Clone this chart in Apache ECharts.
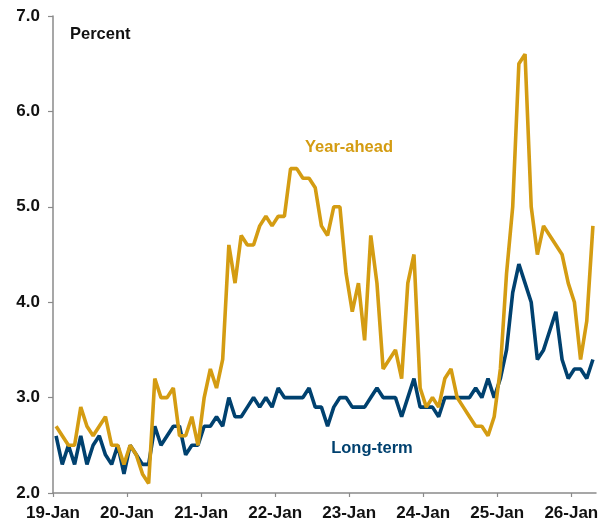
<!DOCTYPE html>
<html>
<head>
<meta charset="utf-8">
<style>
  html, body { margin: 0; padding: 0; background: #fff; }
  #chart { width: 614px; height: 526px; }
</style>
<script src="https://cdn.jsdelivr.net/npm/echarts@6/dist/echarts.min.js"></script>
</head>
<body>
<div id="chart"></div>
<script>
// Monthly survey readings, Jan 2019 through Apr 2026 (percent)
const yearAhead = [
  2.7, 2.6, 2.5, 2.5, 2.9, 2.7, 2.6, 2.7, 2.8, 2.5, 2.5, 2.3,
  2.5, 2.4, 2.2, 2.1, 3.2, 3.0, 3.0, 3.1, 2.6, 2.6, 2.8, 2.5,
  3.0, 3.3, 3.1, 3.4, 4.6, 4.2, 4.7, 4.6, 4.6, 4.8, 4.9, 4.8,
  4.9, 4.9, 5.4, 5.4, 5.3, 5.3, 5.2, 4.8, 4.7, 5.0, 5.0, 4.3,
  3.9, 4.2, 3.6, 4.7, 4.2, 3.3, 3.4, 3.5, 3.2, 4.2, 4.5, 3.1,
  2.9, 3.0, 2.9, 3.2, 3.3, 3.0, 2.9, 2.8, 2.7, 2.7, 2.6, 2.8,
  3.3, 4.3, 5.0, 6.5, 6.6, 5.0, 4.5, 4.8, 4.7, 4.6, 4.5, 4.2,
  4.0, 3.4, 3.8, 4.8
];
const longTerm = [
  2.6, 2.3, 2.5, 2.3, 2.6, 2.3, 2.5, 2.6, 2.4, 2.3, 2.5, 2.2,
  2.5, 2.4, 2.3, 2.3, 2.7, 2.5, 2.6, 2.7, 2.7, 2.4, 2.5, 2.5,
  2.7, 2.7, 2.8, 2.7, 3.0, 2.8, 2.8, 2.9, 3.0, 2.9, 3.0, 2.9,
  3.1, 3.0, 3.0, 3.0, 3.0, 3.1, 2.9, 2.9, 2.7, 2.9, 3.0, 3.0,
  2.9, 2.9, 2.9, 3.0, 3.1, 3.0, 3.0, 3.0, 2.8, 3.0, 3.2, 2.9,
  2.9, 2.9, 2.8, 3.0, 3.0, 3.0, 3.0, 3.0, 3.1, 3.0, 3.2, 3.0,
  3.2, 3.5, 4.1, 4.4, 4.2, 4.0, 3.4, 3.5, 3.7, 3.9, 3.4, 3.2,
  3.3, 3.3, 3.2, 3.4
];
const yearLabels = ['19-Jan', '20-Jan', '21-Jan', '22-Jan', '23-Jan', '24-Jan', '25-Jan', '26-Jan'];
const yTicks = [2, 3, 4, 5, 6, 7];

// x is measured in months from Jan 2019; each reading sits mid-month
const toPoints = arr => arr.map((v, i) => [i + 0.5, v]);
const janTicks = yearLabels.map((_, k) => k * 12);

const gold = '#D49C12';
const navy = '#00416F';
const axisGrey = '#8a8a8a';
const font = '"Liberation Sans", Arial, sans-serif';

const chart = echarts.init(document.getElementById('chart'));
chart.setOption({
  animation: false,
  grid: { left: 53, right: 18, top: 16, bottom: 33, containLabel: false },
  xAxis: {
    type: 'value',
    min: 0,
    max: 88,
    interval: 12,
    splitLine: { show: false },
    axisLine: { show: true, onZero: false, lineStyle: { color: axisGrey, width: 1.5 } },
    axisTick: { show: true, length: 4, lineStyle: { color: axisGrey, width: 1.2 }, customValues: janTicks },
    axisLabel: {
      customValues: janTicks,
      formatter: v => yearLabels[Math.round(v / 12)] || '',
      color: '#111', fontFamily: font, fontWeight: 'bold', fontSize: 17, margin: 12
    }
  },
  yAxis: {
    type: 'value',
    min: 2,
    max: 7,
    interval: 1,
    splitLine: { show: false },
    axisLine: { show: true, lineStyle: { color: axisGrey, width: 1.5 } },
    axisTick: { show: true, length: 5, lineStyle: { color: axisGrey, width: 1.2 } },
    axisLabel: {
      customValues: yTicks,
      formatter: v => v.toFixed(1),
      color: '#111', fontFamily: font, fontWeight: 'bold', fontSize: 17, margin: 13
    }
  },
  series: [
    {
      name: 'Long-term',
      type: 'line',
      data: toPoints(longTerm),
      showSymbol: false,
      lineStyle: { color: navy, width: 3.6 },
      itemStyle: { color: navy }
    },
    {
      name: 'Year-ahead',
      type: 'line',
      data: toPoints(yearAhead),
      showSymbol: false,
      lineStyle: { color: gold, width: 3.6 },
      itemStyle: { color: gold }
    }
  ],
  graphic: [
    {
      type: 'text', left: 70, top: 26,
      style: { text: 'Percent', fill: '#111', font: 'bold 16.5px ' + font }
    },
    {
      type: 'text', x: 349, y: 147,
      style: { text: 'Year-ahead', fill: gold, font: 'bold 16.5px ' + font, align: 'center', verticalAlign: 'middle' }
    },
    {
      type: 'text', x: 372, y: 448,
      style: { text: 'Long-term', fill: navy, font: 'bold 16.5px ' + font, align: 'center', verticalAlign: 'middle' }
    }
  ]
});
</script>
</body>
</html>
